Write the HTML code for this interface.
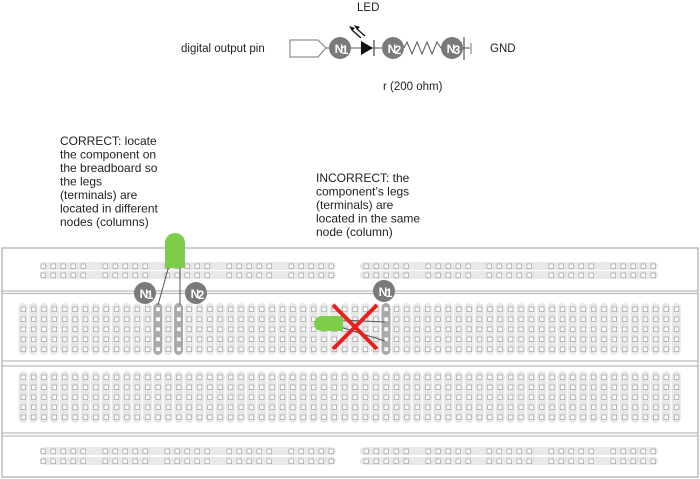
<!DOCTYPE html>
<html><head><meta charset="utf-8"><style>
html,body{margin:0;padding:0;background:#fff;}
svg{display:block;font-family:"Liberation Sans","DejaVu Sans",sans-serif;}
.t{font-size:12px;fill:#222;}
.nl{font-size:12px;font-weight:bold;fill:#fff;}
</style></head><body>
<svg id="s" width="700" height="479" viewBox="0 0 700 479" xmlns="http://www.w3.org/2000/svg">
<text class="t" x="181" y="52" style="font-size:11.5px">digital output pin</text>
<polygon points="290,40 318,40 326,48 318,57 290,57" fill="#fff" stroke="#777" stroke-width="1"/>
<line x1="326" y1="48" x2="470" y2="48" stroke="#555" stroke-width="1"/>
<polygon points="361,41 361,55 373,48" fill="#111"/>
<line x1="374" y1="40" x2="374" y2="56" stroke="#555" stroke-width="1.3"/>
<rect x="404" y="42" width="40" height="12" fill="#fff"/>
<polyline points="404,48 407,42 412,54 417,42 422,54 427,42 432,54 437,42 441,48 444,48" fill="none" stroke="#555" stroke-width="1"/>
<line x1="464" y1="37" x2="464" y2="60" stroke="#555" stroke-width="1.2"/>
<line x1="471" y1="43" x2="471" y2="54" stroke="#777" stroke-width="1"/>
<line x1="352" y1="30" x2="361" y2="38" stroke="#111" stroke-width="1.3"/>
<polygon points="349,26 355,28 352,31" fill="#111"/>
<line x1="357" y1="29" x2="365" y2="36" stroke="#111" stroke-width="1.3"/>
<polygon points="354,25 360,27 357,30" fill="#111"/>
<text class="t" x="357" y="11" style="font-size:11.5px">LED</text>
<text class="t" x="490" y="52" style="font-size:11.5px">GND</text>
<text class="t" x="383" y="90" style="font-size:11.5px">r (200 ohm)</text>
<g id="sn"></g>
<text class="t" x="60" y="145">CORRECT: locate</text>
<text class="t" x="60" y="158.5">the component on</text>
<text class="t" x="60" y="172">the breadboard so</text>
<text class="t" x="60" y="185.5">the legs</text>
<text class="t" x="60" y="199">(terminals) are</text>
<text class="t" x="60" y="212.5">located in different</text>
<text class="t" x="60" y="226">nodes (columns)</text>
<text class="t" x="316" y="182">INCORRECT: the</text>
<text class="t" x="316" y="195.5">component’s legs</text>
<text class="t" x="316" y="209">(terminals) are</text>
<text class="t" x="316" y="222.5">located in the same</text>
<text class="t" x="316" y="236">node (column)</text>
<rect x="2" y="248" width="696" height="229" fill="#fff" stroke="#bbb" stroke-width="1.5"/>
<line x1="2" y1="291" x2="698" y2="291" stroke="#bbb" stroke-width="1.2"/>
<line x1="2" y1="293.5" x2="698" y2="293.5" stroke="#bbb" stroke-width="1.2"/>
<line x1="2" y1="361" x2="698" y2="361" stroke="#bbb" stroke-width="1.2"/>
<line x1="2" y1="366" x2="698" y2="366" stroke="#bbb" stroke-width="1.2"/>
<line x1="2" y1="433" x2="698" y2="433" stroke="#bbb" stroke-width="1.2"/>
<line x1="2" y1="436" x2="698" y2="436" stroke="#bbb" stroke-width="1.2"/>
<g id="b"></g>
<line x1="170" y1="262" x2="158" y2="305" stroke="#555" stroke-width="1"/>
<line x1="180" y1="262" x2="180" y2="305" stroke="#555" stroke-width="1"/>
<path d="M165,268 V243 A10,10 0 0 1 185,243 V268 Z" fill="#7dcc4a"/>
<line x1="340" y1="320" x2="385" y2="322" stroke="#555" stroke-width="1"/>
<line x1="340" y1="327" x2="385" y2="341" stroke="#555" stroke-width="1"/>
<path d="M322,316 H343 V331 H322 A8,7.5 0 0 1 322,316 Z" fill="#7dcc4a"/>
<line x1="333" y1="305" x2="377" y2="349" stroke="#e8201c" stroke-width="4"/>
<line x1="377" y1="305" x2="333" y2="349" stroke="#e8201c" stroke-width="4"/>
<g id="bn"></g>
</svg>
<script>
var NS="http://www.w3.org/2000/svg";
function el(p,t,a,txt){var e=document.createElementNS(NS,t);for(var k in a)e.setAttribute(k,a[k]);if(txt){e.textContent=txt;}document.getElementById(p).appendChild(e);return e;}
function hole(x,y){el("b","rect",{x:x-2,y:y-2,width:4.5,height:4.5,fill:"#fff",stroke:"#aaa","stroke-width":0.8});}
[[266,275],[451,461]].forEach(function(rows){
 rows.forEach(function(y){
  el("b","rect",{x:40,y:y-4,width:296,height:8,rx:4,fill:"#e8e8e8"});
  el("b","rect",{x:360,y:y-4,width:298,height:8,rx:4,fill:"#e8e8e8"});
  [43,105,167,229,291,366,428,489,551,613].forEach(function(g){for(var i=0;i<5;i++)hole(g+i*10,y);});
 });
});
var sp=10.37;
[[309,319,329,339,349],[377,387,397,407,417]].forEach(function(rows,si){
 for(var c=0;c<64;c++){
  var x=23+c*sp;
  var hl=(si==0&&(c==13||c==15||c==35));
  el("b","rect",{x:x-4.5,y:rows[0]-6,width:9,height:52,rx:4.5,fill:hl?"#aaa":"#e8e8e8"});
  rows.forEach(function(y){hole(x,y);});
 }
});
function node(p,x,y,n){el(p,"circle",{cx:x,cy:y,r:11,fill:"#7a7a7a"});
 el(p,"text",{x:x-1,y:y+5,"text-anchor":"middle",class:"nl"},"N");
 el(p,"text",{x:x+5,y:y+6,"text-anchor":"middle",class:"nl","font-size":"10px"},n);}
node("sn",340,48,"1");node("sn",393,48,"2");node("sn",452,48,"3");
node("bn",145,293,"1");node("bn",196,293,"2");node("bn",384,291,"1");
</script>
</body></html>
